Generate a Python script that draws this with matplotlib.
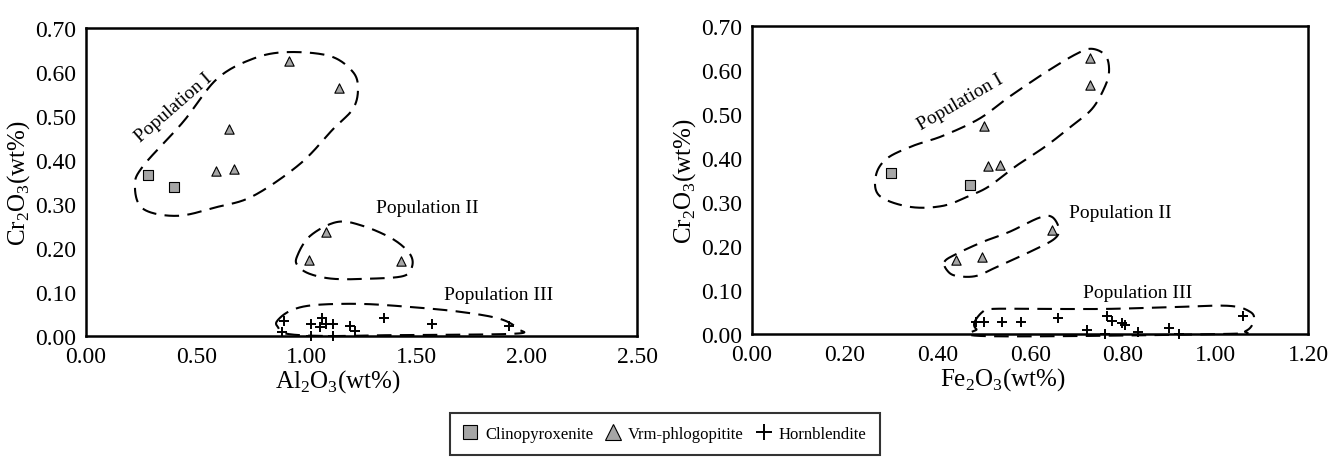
import numpy as np
import matplotlib
matplotlib.use('Agg')
import matplotlib.pyplot as plt
from matplotlib.ticker import FormatStrFormatter
from matplotlib.lines import Line2D

plt.rcParams['font.family'] = ['Liberation Serif', 'DejaVu Serif']
plt.rcParams['mathtext.fontset'] = 'custom'
plt.rcParams['mathtext.rm'] = 'Liberation Serif'

## Data
# Clinopyroxenite (squares)
cpx_al = [0.28, 0.40]
cpx_fe = [0.30, 0.47]
cpx_cr = [0.366, 0.339]

# Vrm-phlogopitite (triangles), left panel
phl_al = [0.92, 1.15, 0.65, 0.59, 0.67, 1.09, 1.01, 1.43]
phl_cr_l = [0.625, 0.564, 0.470, 0.376, 0.380, 0.236, 0.173, 0.170]
# right panel
phl_fe = [0.73, 0.73, 0.50, 0.51, 0.535, 0.647, 0.497, 0.441]
phl_cr_r = [0.627, 0.566, 0.473, 0.382, 0.384, 0.236, 0.175, 0.168]

# Hornblendite (plus), left panel
hbl_al = [0.90, 0.89, 1.02, 1.07, 1.06, 1.09, 1.12, 1.02, 1.12, 1.20, 1.22, 1.35, 1.57, 1.92]
hbl_cr_l = [0.035, 0.010, 0.027, 0.040, 0.020, 0.027, 0.027, 0.000, 0.000, 0.023, 0.012, 0.041, 0.027, 0.023]
# right panel
hbl_fe = [0.484, 0.501, 0.540, 0.581, 0.660, 0.723, 0.766, 0.776, 0.798, 0.804, 0.899, 1.060, 0.761, 0.832, 0.920]
hbl_cr_r = [0.027, 0.027, 0.027, 0.027, 0.036, 0.009, 0.041, 0.030, 0.025, 0.020, 0.014, 0.041, 0.000, 0.005, 0.000]

## Hand-drawn envelopes (control points, data units)
envI_l_x = [0.912, 1.107, 1.211, 1.234, 1.211, 1.121, 0.971, 0.758, 0.594, 0.413, 0.259, 0.222, 0.259, 0.440, 0.594, 0.758]
envI_l_y = [0.645, 0.636, 0.600, 0.561, 0.516, 0.470, 0.391, 0.318, 0.293, 0.273, 0.289, 0.341, 0.386, 0.486, 0.584, 0.630]
envII_l_x = [0.957, 1.016, 1.139, 1.257, 1.393, 1.470, 1.479, 1.438, 1.275, 1.121, 1.016, 0.962]
envII_l_y = [0.180, 0.227, 0.259, 0.250, 0.220, 0.186, 0.157, 0.136, 0.130, 0.130, 0.141, 0.159]
envIII_l_x = [0.867, 0.926, 1.030, 1.243, 1.470, 1.697, 1.878, 1.960, 1.937, 1.393, 1.093, 0.912, 0.871]
envIII_l_y = [0.034, 0.057, 0.070, 0.073, 0.066, 0.055, 0.039, 0.016, 0.005, 0.002, 0.000, 0.005, 0.020]

envI_r_x = [0.267, 0.290, 0.346, 0.411, 0.490, 0.555, 0.634, 0.699, 0.733, 0.763, 0.770, 0.759, 0.733, 0.690, 0.634, 0.570, 0.512, 0.469, 0.411, 0.340, 0.275]
envI_r_y = [0.359, 0.398, 0.427, 0.450, 0.489, 0.539, 0.595, 0.636, 0.648, 0.632, 0.595, 0.557, 0.511, 0.473, 0.427, 0.382, 0.336, 0.314, 0.291, 0.289, 0.314]
envII_r_x = [0.415, 0.441, 0.497, 0.555, 0.619, 0.647, 0.662, 0.652, 0.604, 0.533, 0.484, 0.441, 0.422]
envII_r_y = [0.164, 0.182, 0.209, 0.232, 0.264, 0.266, 0.239, 0.216, 0.189, 0.155, 0.132, 0.132, 0.143]
envIII_r_x = [0.480, 0.497, 0.518, 0.619, 0.763, 0.905, 1.028, 1.075, 1.082, 1.065, 1.013, 0.512, 0.484]
envIII_r_y = [0.027, 0.050, 0.057, 0.057, 0.057, 0.061, 0.064, 0.050, 0.030, 0.007, 0.000, -0.005, 0.011]


def closed_curve(xs, ys, n=24):
    # closed Catmull-Rom spline through the control points
    P = np.column_stack([xs, ys])
    m = len(P)
    t = np.linspace(0, 1, n, endpoint=False)[:, None]
    segs = []
    for i in range(m):
        p0, p1, p2, p3 = P[i - 1], P[i], P[(i + 1) % m], P[(i + 2) % m]
        segs.append(0.5 * (2 * p1 + (-p0 + p2) * t
                           + (2 * p0 - 5 * p1 + 4 * p2 - p3) * t ** 2
                           + (-p0 + 3 * p1 - 3 * p2 + p3) * t ** 3))
    segs.append(P[:1])
    C = np.vstack(segs)
    return C[:, 0], C[:, 1]


gray = '#a6a6a6'
dash = (0, (7, 4))

fig = plt.figure(figsize=(13.31, 4.64), dpi=100)
ax1 = fig.add_axes([0.0646, 0.2737, 0.414, 0.664])
ax2 = fig.add_axes([0.565, 0.278, 0.418, 0.664])


def style(ax, xmax, xstep):
    ax.set_xlim(0, xmax)
    ax.set_ylim(0, 0.70)
    ax.set_xticks(np.arange(0, xmax + 1e-9, xstep))
    ax.set_yticks(np.arange(0, 0.71, 0.10))
    ax.xaxis.set_major_formatter(FormatStrFormatter('%.2f'))
    ax.yaxis.set_major_formatter(FormatStrFormatter('%.2f'))
    ax.tick_params(length=0, labelsize=17, pad=7)
    for s in ax.spines.values():
        s.set_linewidth(1.8)


## Left panel: Al2O3 vs Cr2O3
style(ax1, 2.5, 0.5)
for ex, ey in [(envI_l_x, envI_l_y), (envII_l_x, envII_l_y), (envIII_l_x, envIII_l_y)]:
    cx, cy = closed_curve(ex, ey)
    ax1.plot(cx, cy, color='black', lw=1.5, linestyle=dash, clip_on=False)
ax1.scatter(cpx_al, cpx_cr, marker='s', s=45, c=gray, edgecolors='black', linewidths=0.8, zorder=3)
ax1.scatter(phl_al, phl_cr_l, marker='^', s=45, c=gray, edgecolors='black', linewidths=0.8, zorder=3)
ax1.scatter(hbl_al, hbl_cr_l, marker='+', s=45, c='black', linewidths=1.4, zorder=3, clip_on=False)
ax1.text(0.40, 0.52, 'Population I', rotation=41, fontsize=14, ha='center', va='center')
ax1.text(1.547, 0.293, 'Population II', fontsize=14, ha='center', va='center')
ax1.text(1.874, 0.095, 'Population III', fontsize=14, ha='center', va='center')
ax1.set_xlabel(r'Al$_\mathregular{2}$O$_\mathregular{3}$(wt%)', fontsize=18, labelpad=0)
ax1.set_ylabel(r'Cr$_\mathregular{2}$O$_\mathregular{3}$(wt%)', fontsize=18, labelpad=2)
ax1.xaxis.set_label_coords(0.457, -0.10)

## Right panel: Fe2O3 vs Cr2O3
style(ax2, 1.2, 0.2)
for ex, ey in [(envI_r_x, envI_r_y), (envII_r_x, envII_r_y), (envIII_r_x, envIII_r_y)]:
    cx, cy = closed_curve(ex, ey)
    ax2.plot(cx, cy, color='black', lw=1.5, linestyle=dash, clip_on=False)
ax2.scatter(cpx_fe, cpx_cr, marker='s', s=45, c=gray, edgecolors='black', linewidths=0.8, zorder=3)
ax2.scatter(phl_fe, phl_cr_r, marker='^', s=45, c=gray, edgecolors='black', linewidths=0.8, zorder=3)
ax2.scatter(hbl_fe, hbl_cr_r, marker='+', s=45, c='black', linewidths=1.4, zorder=3, clip_on=False)
ax2.text(0.449, 0.527, 'Population I', rotation=30, fontsize=14, ha='center', va='center')
ax2.text(0.794, 0.277, 'Population II', fontsize=14, ha='center', va='center')
ax2.text(0.832, 0.095, 'Population III', fontsize=14, ha='center', va='center')
ax2.set_xlabel(r'Fe$_\mathregular{2}$O$_\mathregular{3}$(wt%)', fontsize=18, labelpad=0)
ax2.set_ylabel(r'Cr$_\mathregular{2}$O$_\mathregular{3}$(wt%)', fontsize=18, labelpad=2)
ax2.xaxis.set_label_coords(0.451, -0.10)

## Shared legend
handles = [
    Line2D([], [], marker='s', linestyle='none', markersize=10, markerfacecolor=gray, markeredgecolor='black', markeredgewidth=0.8),
    Line2D([], [], marker='^', linestyle='none', markersize=11, markerfacecolor=gray, markeredgecolor='black', markeredgewidth=0.8),
    Line2D([], [], marker='+', linestyle='none', markersize=12, color='black', markeredgewidth=1.4),
]
leg = fig.legend(handles, ['Clinopyroxenite', 'Vrm-phlogopitite', 'Hornblendite'],
                 loc='center', bbox_to_anchor=(0.4996, 0.0625), ncol=3, fontsize=12,
                 frameon=True, fancybox=False, edgecolor='black', handletextpad=0.5,
                 columnspacing=0.8, handlelength=0.8, borderpad=0.8, borderaxespad=0)
leg.get_frame().set_linewidth(1.5)

fig.savefig('out.png', dpi=100)
